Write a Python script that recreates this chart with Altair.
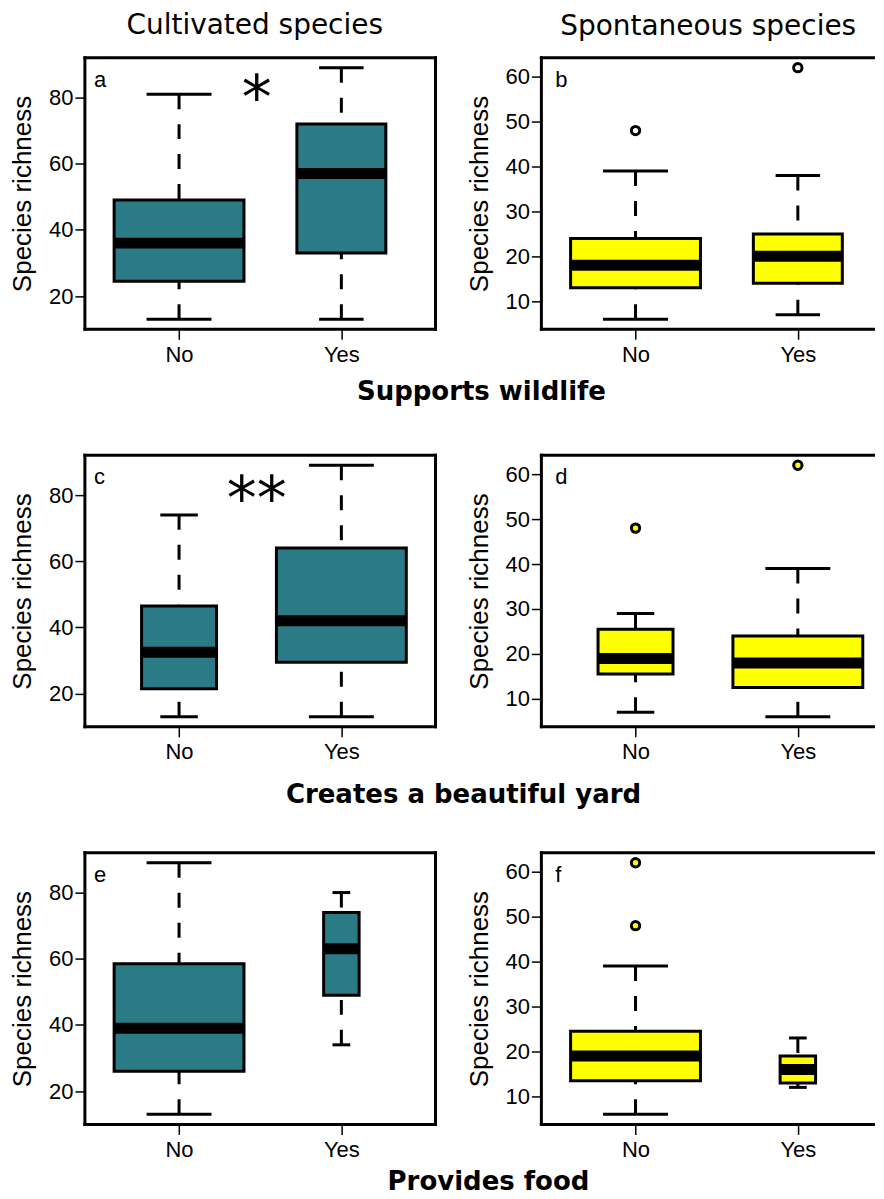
import json
import altair as alt
import pandas as pd

# ---------------- data ----------------
groups = ["No", "Yes"]
column_titles = ["Cultivated species", "Spontaneous species"]
row_titles = ["Supports wildlife", "Creates a beautiful yard", "Provides food"]
panel_letters = ["a", "b", "c", "d", "e", "f"]
significance = ["*", "**", ""]
y_title = "Species richness"

# five-number summaries: [lower whisker, Q1, median, Q3, upper whisker]
a_no = [13, 24.5, 36, 49, 81]
a_yes = [13, 33, 57, 72, 89]
b_no = [6, 13, 18, 24, 39]
b_yes = [7, 14, 20, 25, 38]
c_no = [13, 21.5, 32.5, 46.5, 74]
c_yes = [13, 29.5, 42, 64, 89]
d_no = [7, 15.5, 19, 25.5, 29]
d_yes = [6, 12.5, 18, 24, 39]
e_no = [13, 26, 39, 58.5, 89]
e_yes = [34, 49, 63, 74, 80]
f_no = [6, 13.5, 19, 24.5, 39]
f_yes = [12, 13, 16, 19, 23]

# outliers
b_out_no, b_out_yes = [48], [62]
d_out_no, d_out_yes = [48], [62]
f_out_no, f_out_yes = [48, 62], []

# group sizes (box widths proportional to sqrt(n))
n_wildlife = [49, 23]
n_beauty = [18, 54]
n_food = [67, 5]

cult_ticks = [20, 40, 60, 80]
spon_ticks = [10, 20, 30, 40, 50, 60]

# ---------------- style ----------------
TEAL = "#2b7b86"
YELLOW = "#ffff00"
W_FULL, H = 351, 272     # full plot frame
W_RIGHT = 334            # right column is cut by the page edge
LABEL_FONT = "Liberation Sans"
TITLE_FONT = "DejaVu Sans"
LW = 3

ONE = pd.DataFrame({"k": [0]})


def text_layer(txt, **kw):
    return alt.Chart(pd.DataFrame({"t": [txt]})).mark_text(**kw).encode(text="t:N")


def bar(x1, x2, y1, y2):
    return alt.Chart(ONE).mark_rect(color="black").encode(
        x=alt.value(x1), x2=alt.value(x2), y=alt.value(y1), y2=alt.value(y2))


def frame_layers(width, closed):
    h = LW / 2
    right = width + h if closed else width
    lays = [bar(-h, right, -h, h), bar(-h, right, H - h, H + h), bar(-h, h, -h, H + h)]
    if closed:
        lays.append(bar(width - h, width + h, -h, H + h))
    return lays


def make_panel(no, yes, out_no, out_yes, n, fill, out_fill, ticks, letter,
               letter_x, width, extras=()):
    pos = [i + 1 for i in range(len(groups))]
    maxn = max(n)
    half = [0.4 * (k / maxn) ** 0.5 for k in n]
    stats = [no, yes]
    box = pd.DataFrame({
        "group": groups,
        "pos": pos,
        "lo": [p - h for p, h in zip(pos, half)],
        "hi": [p + h for p, h in zip(pos, half)],
        "clo": [p - h / 2 for p, h in zip(pos, half)],
        "chi": [p + h / 2 for p, h in zip(pos, half)],
        "wlo": [s[0] for s in stats],
        "q1": [s[1] for s in stats],
        "med": [s[2] for s in stats],
        "q3": [s[3] for s in stats],
        "whi": [s[4] for s in stats],
    })
    outs = pd.DataFrame(
        [{"pos": p, "v": v} for p, o in zip(pos, [out_no, out_yes]) for v in o],
        columns=["pos", "v"])
    allv = no + yes + list(out_no) + list(out_yes)
    vmin, vmax = min(allv), max(allv)
    pad = 0.04 * (vmax - vmin)
    ysc = alt.Scale(domain=[vmin - pad, vmax + pad], nice=False, zero=False)
    xlo, xhi = 0.5, len(groups) + 0.5
    xpad = 0.04 * (xhi - xlo)
    d0, d1 = xlo - xpad, xhi + xpad
    d1 = d0 + (d1 - d0) * width / W_FULL
    xsc = alt.Scale(domain=[d0, d1], nice=False, zero=False)

    xaxis = alt.Axis(values=pos, title=None,
                     labelExpr=f"{json.dumps(groups)}[datum.value - 1]",
                     labelPadding=5, labelAngle=0)
    yaxis = alt.Axis(values=ticks, title=y_title, labelPadding=2,
                     titleX=-62, titleY=H / 2, titleAngle=270,
                     titleAlign="center", titleBaseline="middle")

    base = alt.Chart(box)
    whisk_hi = base.mark_rule(color="black", strokeWidth=LW, strokeDash=[15, 15]).encode(
        x=alt.X("pos:Q", scale=xsc, axis=xaxis),
        y=alt.Y("whi:Q", scale=ysc, axis=yaxis),
        y2="q3:Q")
    whisk_lo = base.mark_rule(color="black", strokeWidth=LW, strokeDash=[15, 15]).encode(
        x="pos:Q", y="wlo:Q", y2="q1:Q")
    rect = base.mark_rect(fill=fill, stroke="black", strokeWidth=LW).encode(
        x="lo:Q", x2="hi:Q", y="q1:Q", y2="q3:Q")
    med = base.mark_rule(color="black", strokeWidth=11, strokeCap="butt").encode(
        x="lo:Q", x2="hi:Q", y="med:Q")
    cap_hi = base.mark_rule(color="black", strokeWidth=LW).encode(
        x="clo:Q", x2="chi:Q", y="whi:Q")
    cap_lo = base.mark_rule(color="black", strokeWidth=LW).encode(
        x="clo:Q", x2="chi:Q", y="wlo:Q")
    layers = [whisk_hi, whisk_lo, rect, med, cap_hi, cap_lo]
    if len(outs):
        pts = alt.Chart(outs).mark_point(
            shape="circle", filled=False, fill=out_fill, stroke="black",
            strokeWidth=LW, size=70, opacity=1).encode(x="pos:Q", y="v:Q")
        layers.append(pts)
    lab = text_layer(letter, font=LABEL_FONT, fontSize=22, align="left",
                     baseline="alphabetic", color="black").encode(
        x=alt.value(letter_x), y=alt.value(29))
    layers.append(lab)
    layers.extend(frame_layers(width, width == W_FULL))
    layers.extend(extras)
    return alt.layer(*layers).properties(width=width, height=H)


def col_title(txt, x, y):
    return text_layer(txt, font=TITLE_FONT, fontSize=28, align="center",
                      baseline="alphabetic", color="black").encode(
        x=alt.value(x), y=alt.value(y))


def row_title(txt, x, y):
    return text_layer(txt, font=TITLE_FONT, fontSize=26, fontWeight="bold",
                      align="center", baseline="alphabetic", color="black").encode(
        x=alt.value(x), y=alt.value(y))


def star(txt, y):
    return text_layer(txt, font=TITLE_FONT, fontSize=60, align="center",
                      baseline="alphabetic", color="black").encode(
        x=alt.value(172), y=alt.value(y))


anchor = alt.Chart(ONE).mark_rect(opacity=0).encode(
    x=alt.value(-76), x2=alt.value(-75), y=alt.value(-48), y2=alt.value(-47))

pa = make_panel(a_no, a_yes, [], [], n_wildlife, TEAL, TEAL, cult_ticks,
                panel_letters[0], 9, W_FULL,
                [anchor, col_title(column_titles[0], 170, -24),
                 row_title(row_titles[0], 397, 343), star(significance[0], 60)])
pb = make_panel(b_no, b_yes, b_out_no, b_out_yes, n_wildlife, YELLOW, "white",
                spon_ticks, panel_letters[1], 14, W_RIGHT,
                [col_title(column_titles[1], 167, -23)])
pc = make_panel(c_no, c_yes, [], [], n_beauty, TEAL, TEAL, cult_ticks,
                panel_letters[2], 9, W_FULL,
                [row_title(row_titles[1], 379, 348), star(significance[1], 64)])
pd_ = make_panel(d_no, d_yes, d_out_no, d_out_yes, n_beauty, YELLOW, YELLOW,
                 spon_ticks, panel_letters[3], 14, W_RIGHT)
pe = make_panel(e_no, e_yes, [], [], n_food, TEAL, TEAL, cult_ticks,
                panel_letters[4], 9, W_FULL,
                [row_title(row_titles[2], 404, 338)])
pf = make_panel(f_no, f_yes, f_out_no, f_out_yes, n_food, YELLOW, YELLOW,
                spon_ticks, panel_letters[5], 14, W_RIGHT)

chart = alt.concat(
    pa, pb, pc, pd_, pe, pf, columns=2,
    spacing=alt.RowColnumber(row=126, column=106), bounds="flush"
).properties(padding=0, background="white").configure_view(
    stroke="transparent"
).configure_axis(
    domain=False, grid=False, ticks=True, tickColor="black", tickSize=10,
    tickWidth=1.5, labelFont=LABEL_FONT, labelFontSize=22, labelColor="black",
    titleFont=LABEL_FONT, titleFontSize=26, titleFontWeight="normal",
    titleColor="black"
)

chart.save("out.html", embed_options={"renderer": "svg", "actions": False})
